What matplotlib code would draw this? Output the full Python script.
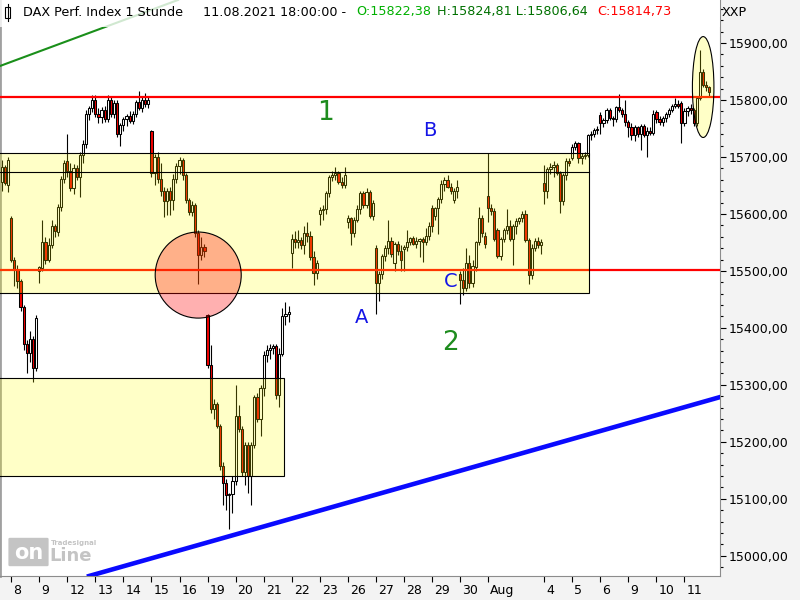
import numpy as np
import matplotlib.pyplot as plt
from matplotlib import patches, ticker
from matplotlib.transforms import ScaledTranslation

# DAX Perf. Index, 1h bars (3 bars of Jul 7, then 9 bars per day Jul 8 .. Aug 11 2021)
day_labels = ['8', '9', '12', '13', '14', '15', '16', '19', '20', '21', '22', '23',
              '26', '27', '28', '29', '30', 'Aug', '', '4', '5', '6', '9', '10', '11']

opens = [
    15656, 15682, 15650,
    15592, 15520, 15502, 15483, 15436, 15372, 15356, 15380, 15330,
    15500, 15505, 15550, 15520, 15545, 15578, 15568, 15612, 15662,
    15692, 15675, 15645, 15680, 15665, 15703, 15722, 15776, 15785,
    15800, 15775, 15770, 15782, 15766, 15800, 15776, 15795, 15740,
    15756, 15766, 15772, 15763, 15776, 15796, 15786, 15800, 15792,
    15745, 15672, 15700, 15662, 15640, 15622, 15640, 15625, 15662,
    15684, 15694, 15668, 15624, 15604, 15616, 15566, 15528, 15542,
    15422, 15335, 15258, 15266, 15228, 15157, 15128, 15106, 15108,
    15132, 15245, 15222, 15148, 15195, 15140, 15195, 15278, 15240,
    15295, 15352, 15362, 15365, 15368, 15282, 15355, 15420, 15425,
    15532, 15556, 15550, 15554, 15546, 15566, 15562, 15524, 15496,
    15600, 15606, 15609, 15636, 15664, 15669, 15672, 15656, 15650,
    15585, 15592, 15567, 15590, 15609, 15636, 15615, 15638, 15597,
    15540, 15478, 15495, 15527, 15540, 15552, 15514, 15548, 15535,
    15538, 15542, 15551, 15557, 15548, 15553, 15556, 15550, 15562,
    15610, 15596, 15610, 15627, 15653, 15660, 15648, 15625, 15640,
    15495, 15484, 15470, 15514, 15478, 15506, 15550, 15592, 15562,
    15632, 15610, 15605, 15572, 15527, 15556, 15572, 15578, 15556,
    15578, 15588, 15592, 15600, 15554, 15492, 15540, 15552, 15545,
    15655, 15640, 15678, 15682, 15686, 15672, 15622, 15668, 15692,
    15698, 15718, 15724, 15698, 15702, 15704, 15738, 15741, 15747,
    15773, 15759, 15764, 15782, 15768, 15766, 15787, 15782, 15775,
    15761, 15752, 15738, 15752, 15740, 15754, 15738, 15745, 15742,
    15778, 15766, 15762, 15768, 15775, 15782, 15789, 15792, 15794,
    15760, 15780, 15785, 15782, 15760, 15803, 15849, 15826, 15822.38,
]
highs = [
    15695, 15686, 15700,
    15597, 15525, 15510, 15486, 15440, 15378, 15395, 15385, 15422,
    15508, 15590, 15560, 15558, 15590, 15582, 15618, 15666, 15695,
    15740, 15690, 15688, 15685, 15708, 15730, 15782, 15790, 15808,
    15808, 15785, 15788, 15790, 15808, 15805, 15800, 15800, 15760,
    15770, 15776, 15780, 15780, 15800, 15815, 15806, 15812, 15806,
    15748, 15705, 15708, 15690, 15648, 15645, 15648, 15670, 15690,
    15700, 15698, 15672, 15628, 15622, 15620, 15572, 15560, 15548,
    15425, 15370, 15275, 15270, 15232, 15165, 15135, 15110, 15140,
    15300, 15265, 15228, 15200, 15200, 15200, 15282, 15285, 15300,
    15360, 15370, 15372, 15372, 15372, 15365, 15435, 15445, 15438,
    15565, 15570, 15572, 15560, 15578, 15585, 15570, 15535, 15520,
    15612, 15615, 15640, 15668, 15675, 15683, 15676, 15665, 15682,
    15598, 15595, 15595, 15615, 15640, 15640, 15645, 15642, 15625,
    15545, 15500, 15530, 15545, 15590, 15560, 15550, 15552, 15545,
    15545, 15572, 15560, 15562, 15560, 15558, 15560, 15575, 15585,
    15615, 15612, 15630, 15660, 15665, 15668, 15655, 15645, 15660,
    15500, 15505, 15540, 15528, 15520, 15552, 15612, 15598, 15568,
    15706, 15618, 15610, 15575, 15560, 15575, 15608, 15590, 15582,
    15592, 15595, 15605, 15606, 15558, 15548, 15558, 15560, 15556,
    15685, 15682, 15690, 15692, 15690, 15675, 15672, 15698, 15698,
    15722, 15728, 15726, 15706, 15708, 15740, 15745, 15750, 15754,
    15778, 15768, 15785, 15786, 15772, 15790, 15810, 15786, 15800,
    15765, 15760, 15756, 15755, 15758, 15758, 15752, 15752, 15782,
    15782, 15772, 15772, 15778, 15785, 15792, 15803, 15800, 15798,
    15785, 15790, 15792, 15785, 15806, 15888, 15855, 15834, 15824.81,
]
lows = [
    15640, 15650, 15638,
    15515, 15474, 15470, 15430, 15362, 15320, 15340, 15305, 15325,
    15478, 15500, 15512, 15515, 15540, 15560, 15562, 15605, 15655,
    15665, 15640, 15635, 15660, 15630, 15690, 15715, 15765, 15778,
    15770, 15760, 15760, 15762, 15762, 15770, 15768, 15735, 15720,
    15745, 15755, 15760, 15758, 15770, 15782, 15778, 15788, 15786,
    15665, 15650, 15655, 15632, 15595, 15598, 15598, 15606, 15655,
    15670, 15660, 15620, 15598, 15596, 15560, 15477, 15520, 15525,
    15330, 15250, 15240, 15225, 15150, 15090, 15080, 15048, 15075,
    15125, 15218, 15140, 15125, 15110, 15090, 15190, 15235, 15210,
    15280, 15340, 15345, 15355, 15275, 15262, 15350, 15405, 15410,
    15505, 15540, 15540, 15538, 15530, 15550, 15520, 15475, 15485,
    15580, 15590, 15600, 15630, 15658, 15660, 15652, 15645, 15646,
    15575, 15545, 15560, 15585, 15600, 15610, 15610, 15592, 15590,
    15425, 15447, 15485, 15518, 15530, 15525, 15500, 15528, 15500,
    15500, 15535, 15545, 15545, 15540, 15525, 15515, 15545, 15555,
    15568, 15590, 15565, 15620, 15640, 15645, 15635, 15620, 15628,
    15442, 15458, 15465, 15470, 15472, 15500, 15545, 15560, 15540,
    15585, 15598, 15552, 15522, 15520, 15550, 15565, 15552, 15510,
    15565, 15582, 15585, 15550, 15477, 15485, 15535, 15540, 15530,
    15618, 15628, 15670, 15665, 15668, 15602, 15615, 15660, 15684,
    15694, 15712, 15690, 15688, 15696, 15700, 15730, 15735, 15740,
    15740, 15752, 15760, 15764, 15755, 15762, 15778, 15770, 15755,
    15735, 15730, 15728, 15735, 15712, 15735, 15700, 15738, 15738,
    15760, 15756, 15755, 15762, 15770, 15778, 15785, 15786, 15725,
    15755, 15772, 15776, 15755, 15755, 15800, 15822, 15815, 15806.64,
]
closes = [
    15682, 15655, 15694,
    15520, 15502, 15483, 15436, 15372, 15356, 15380, 15330, 15418,
    15506, 15550, 15520, 15545, 15578, 15570, 15612, 15662, 15690,
    15675, 15645, 15680, 15665, 15703, 15722, 15776, 15785, 15800,
    15775, 15770, 15782, 15766, 15800, 15776, 15795, 15740, 15756,
    15766, 15772, 15763, 15776, 15796, 15786, 15800, 15792, 15800,
    15672, 15700, 15662, 15640, 15622, 15640, 15625, 15662, 15684,
    15694, 15668, 15624, 15604, 15616, 15566, 15528, 15542, 15535,
    15335, 15258, 15266, 15228, 15157, 15128, 15106, 15108, 15132,
    15245, 15222, 15148, 15195, 15140, 15195, 15278, 15240, 15295,
    15352, 15362, 15365, 15368, 15282, 15355, 15420, 15425, 15428,
    15556, 15550, 15554, 15546, 15566, 15562, 15524, 15496, 15514,
    15606, 15609, 15636, 15664, 15669, 15672, 15656, 15650, 15668,
    15592, 15567, 15590, 15609, 15636, 15615, 15638, 15597, 15620,
    15478, 15495, 15527, 15540, 15552, 15530, 15548, 15535, 15520,
    15542, 15551, 15557, 15548, 15553, 15556, 15550, 15562, 15578,
    15578, 15610, 15627, 15653, 15660, 15648, 15640, 15640, 15648,
    15484, 15470, 15514, 15478, 15508, 15550, 15592, 15566, 15547,
    15610, 15605, 15556, 15527, 15556, 15572, 15578, 15556, 15578,
    15588, 15592, 15600, 15554, 15492, 15540, 15552, 15545, 15550,
    15640, 15678, 15682, 15686, 15672, 15622, 15668, 15692, 15690,
    15718, 15724, 15698, 15702, 15704, 15738, 15741, 15747, 15749,
    15759, 15764, 15782, 15768, 15766, 15787, 15782, 15775, 15761,
    15752, 15738, 15752, 15740, 15754, 15738, 15745, 15742, 15776,
    15766, 15762, 15768, 15775, 15782, 15789, 15792, 15790, 15760,
    15780, 15785, 15782, 15760, 15803, 15849, 15826, 15822, 15814.73,
]

# drawn levels
resistance = 15805
support = 15502
zone_top, zone_mid, zone_bot = 15706, 15673, 15461
low_zone_top, low_zone_bot = 15312, 15140

W, H = 800, 600
BARS_PER_DAY = 9

fig = plt.figure(figsize=(8, 6), dpi=100, facecolor='#f3f3f3')
ax = fig.add_axes([0, 24 / H, 720 / W, 576 / H])
ax.set_facecolor('white')

o = np.array(opens, dtype=float)
h = np.array(highs, dtype=float)
l = np.array(lows, dtype=float)
c = np.array(closes, dtype=float)
x = np.arange(len(o)) - 3  # first 3 bars belong to Jul 7

up = c >= o
ax.vlines(x, l, h, color='black', lw=0.8, zorder=2)
body = np.maximum(np.abs(c - o), 1.5)
ax.bar(x, body, bottom=np.minimum(o, c), width=0.7,
       color=np.where(up, 'white', '#f00000'), edgecolor='black', linewidth=0.75, zorder=3)

# horizontal levels and trend lines
ax.axhline(resistance, color='#ff0000', lw=1.6, zorder=4)
ax.axhline(support, color='#ff0000', lw=1.6, zorder=4)
ax.axline((-3.6, 15859.5), (53.5, 15975.3), color='#1a8f1a', lw=1.5, zorder=4)
ax.axline((23.7, 14962.7), (227.4, 15278.6), color='#0a0aff', lw=3.3, zorder=4)

# yellow zones
yellow = (1, 1, 0, 0.22)
ax.add_patch(patches.Rectangle((-10, zone_bot), 195.5, zone_top - zone_bot,
                               facecolor=yellow, edgecolor='black', lw=0.8, zorder=5))
ax.plot([-10, 185.5], [zone_mid, zone_mid], color='black', lw=0.8, zorder=5)
ax.add_patch(patches.Rectangle((-10, low_zone_bot), 97.6, low_zone_top - low_zone_bot,
                               facecolor=yellow, edgecolor='black', lw=0.8, zorder=5))

# markers
ax.add_patch(patches.Ellipse((60.0, 15492.7), 27.6, 151, facecolor=(1, 0, 0, 0.31),
                             edgecolor='black', lw=0.8, zorder=6))
ax.add_patch(patches.Ellipse((222.0, 15822.6), 6.9, 177, facecolor=yellow,
                             edgecolor='black', lw=0.8, zorder=6))

green = '#1e8c1e'
blue = '#1515e6'
ax.text(100.7, 15777, '1', color=green, fontsize=19, ha='center', va='center', zorder=7)
ax.text(141.0, 15373, '2', color=green, fontsize=19, ha='center', va='center', zorder=7)
ax.text(134.4, 15747, 'B', color=blue, fontsize=14, ha='center', va='center', zorder=7)
ax.text(112.5, 15419, 'A', color=blue, fontsize=14, ha='center', va='center', zorder=7)
ax.text(141.1, 15482, 'C', color=blue, fontsize=14, ha='center', va='center', zorder=7)

ax.set_xlim(-3.59, 227.4)
ax.set_ylim(14964.7, 15975.3)

# x axis: one tick per day (Aug 3 left blank)
ticks, labels = [], []
for d, lab in enumerate(day_labels):
    if lab:
        ticks.append(d * BARS_PER_DAY)
        labels.append(lab)
ax.set_xticks(ticks)
ax.set_xticklabels(labels)
ax.tick_params(axis='x', direction='out', length=4, width=0.8, pad=2, labelsize=9)
shift = ScaledTranslation(2 / 100, 0, fig.dpi_scale_trans)
for t in ax.get_xticklabels():
    t.set_horizontalalignment('left')
    t.set_transform(t.get_transform() + shift)

# y axis on the right with comma decimals
ax.yaxis.tick_right()
ax.set_yticks(np.arange(15000, 15901, 100))
ax.yaxis.set_minor_locator(ticker.MultipleLocator(20))
ax.yaxis.set_major_formatter(ticker.FuncFormatter(lambda v, p: f"{v:.2f}".replace('.', ',')))
ax.tick_params(axis='y', which='major', length=4, width=0.8, pad=2, labelsize=9)
ax.tick_params(axis='y', which='minor', length=2, width=0.8)

ax.spines['top'].set_visible(False)
ax.spines['right'].set_color('#8c8c8c')
ax.spines['bottom'].set_color('#8c8c8c')
ax.spines['left'].set_color('#a0a0a0')
ax.spines['left'].set_linewidth(2)

# title strip
ax.add_patch(patches.Rectangle((0, 1 - 27 / 576), 1, 27 / 576, transform=ax.transAxes,
                               facecolor=(1, 1, 1, 0.8), edgecolor='none', zorder=8))

def fmt(v):
    return f"{v:.2f}".replace('.', ',')

ty = 1 - 12 / H
title_parts = [
    (23, 'DAX Perf. Index 1 Stunde', 'black'),
    (203, '11.08.2021 18:00:00 -', 'black'),
    (356, 'O:' + fmt(opens[-1]), '#00b000'),
    (437, 'H:' + fmt(highs[-1]) + ' L:' + fmt(lows[-1]), '#007000'),
    (597, 'C:' + fmt(closes[-1]), '#ff0000'),
]
for px, s, col in title_parts:
    fig.text(px / W, ty, s, color=col, fontsize=9.2, ha='left', va='center', zorder=10)
fig.text(722 / W, ty, 'XXP', fontsize=9.2, ha='left', va='center')

# little candle icon in the title
fig.add_artist(plt.Line2D([7.5 / W, 7.5 / W], [1 - 4 / H, 1 - 21 / H], color='black', lw=0.8))
fig.add_artist(patches.Rectangle((5 / W, 1 - 18 / H), 5 / W, 11 / H, transform=fig.transFigure,
                                 facecolor='white', edgecolor='black', lw=0.8))

# watermark logo
fig.add_artist(patches.FancyBboxPatch((10 / W, 1 - 565 / H), 37 / W, 26 / H,
                                      boxstyle='round,pad=0.002', transform=fig.transFigure,
                                      facecolor='#c4c4c4', edgecolor='none'))
fig.text(28.5 / W, 1 - 553 / H, 'on', color='white', fontsize=15, fontweight='bold',
         ha='center', va='center')
fig.text(49 / W, 1 - 556 / H, 'Line', color='#c4c4c4', fontsize=13, fontweight='bold',
         ha='left', va='center')
fig.text(51 / W, 1 - 543 / H, 'Tradesignal', color='#c4c4c4', fontsize=5, fontweight='bold',
         ha='left', va='center')

fig.savefig('out.png', dpi=100, facecolor=fig.get_facecolor())
